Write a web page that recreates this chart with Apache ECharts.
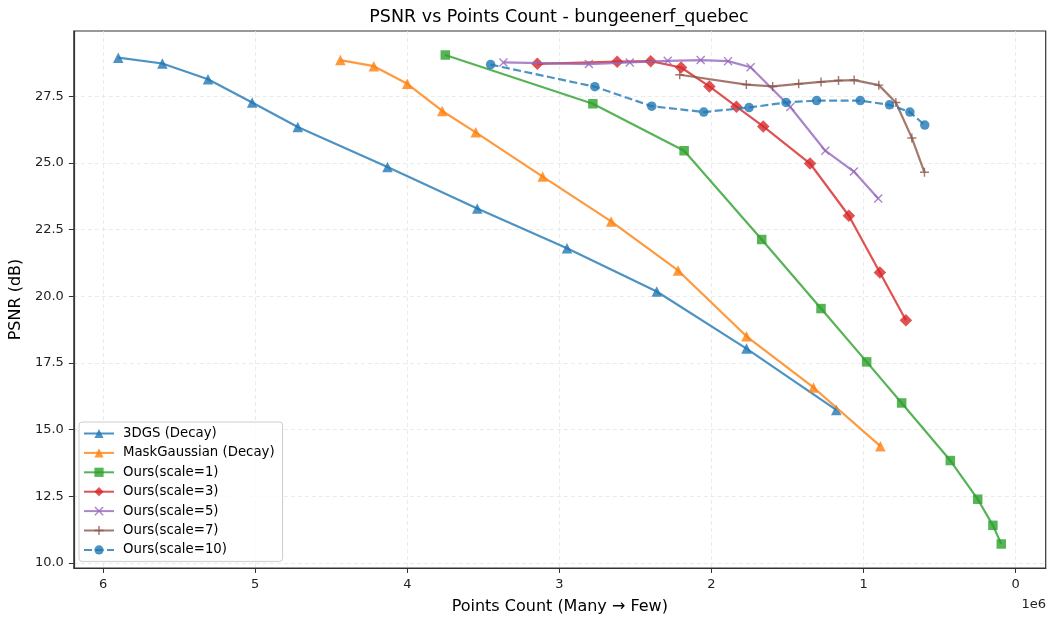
<!DOCTYPE html>
<html>
<head>
<meta charset="utf-8">
<script src="https://cdn.jsdelivr.net/npm/echarts@6/dist/echarts.min.js"></script>
<style>
html,body{margin:0;padding:0;background:#fff;}
#chart{width:1049px;height:620px;}
</style>
</head>
<body>
<div id="chart"></div>
<script>
// Points count in millions (axis shows x 1e6)
const xTicks = [0, 1, 2, 3, 4, 5, 6];
const yTicks = [10, 12.5, 15, 17.5, 20, 22.5, 25, 27.5];
const seriesNames = ['3DGS (Decay)', 'MaskGaussian (Decay)', 'Ours(scale=1)', 'Ours(scale=3)', 'Ours(scale=5)', 'Ours(scale=7)', 'Ours(scale=10)'];

const dgsX = [5.90, 5.61, 5.31, 5.02, 4.72, 4.13, 3.54, 2.95, 2.36, 1.77, 1.18];
const dgsY = [28.95, 28.73, 28.14, 27.27, 26.35, 24.85, 23.29, 21.80, 20.18, 18.04, 15.74];

const maskX = [4.44, 4.22, 4.00, 3.77, 3.55, 3.11, 2.66, 2.22, 1.77, 1.33, 0.89];
const maskY = [28.86, 28.63, 27.97, 26.95, 26.15, 24.49, 22.81, 20.97, 18.50, 16.58, 14.38];

const s1X = [3.75, 2.78, 2.18, 1.67, 1.28, 0.98, 0.75, 0.43, 0.25, 0.15, 0.095];
const s1Y = [29.05, 27.22, 25.46, 22.13, 19.54, 17.54, 16.00, 13.84, 12.39, 11.41, 10.71];

const s3X = [3.145, 2.62, 2.40, 2.20, 2.014, 1.836, 1.66, 1.352, 1.097, 0.893, 0.722];
const s3Y = [28.72, 28.80, 28.82, 28.58, 27.87, 27.11, 26.37, 24.98, 23.02, 20.89, 19.10];

const s5X = [3.368, 2.806, 2.537, 2.288, 2.071, 1.891, 1.743, 1.482, 1.252, 1.064, 0.904];
const s5Y = [28.77, 28.71, 28.77, 28.83, 28.86, 28.82, 28.59, 27.10, 25.46, 24.68, 23.67];

const s7X = [2.209, 1.771, 1.598, 1.427, 1.280, 1.165, 1.062, 0.900, 0.788, 0.683, 0.600];
const s7Y = [28.31, 27.94, 27.87, 27.97, 28.04, 28.09, 28.11, 27.92, 27.27, 25.94, 24.65];

const s10X = [3.452, 2.767, 2.393, 2.051, 1.753, 1.510, 1.309, 1.022, 0.830, 0.696, 0.598];
const s10Y = [28.69, 27.86, 27.13, 26.91, 27.08, 27.27, 27.34, 27.34, 27.18, 26.91, 26.42];

const colors = ['#1f77b4', '#ff7f0e', '#2ca02c', '#d62728', '#9467bd', '#8c564b', '#1f77b4'];
const FONT = 'DejaVu Sans';

const zip = (xs, ys) => xs.map((x, i) => [x, ys[i]]);
const plusPath = 'path://M4.2,0h1.6v4.2h4.2v1.6h-4.2v4.2h-1.6v-4.2h-4.2v-1.6h4.2z';
const xPath = 'path://M1.1,0L5,3.9L8.9,0L10,1.1L6.1,5L10,8.9L8.9,10L5,6.1L1.1,10L0,8.9L3.9,5L0,1.1z';
const diamondPath = 'path://M5,0L10,5L5,10L0,5z';

const defs = [
  {x: dgsX, y: dgsY, sym: 'triangle', size: 10.5},
  {x: maskX, y: maskY, sym: 'triangle', size: 10.5},
  {x: s1X, y: s1Y, sym: 'rect', size: 9.5},
  {x: s3X, y: s3Y, sym: diamondPath, size: 12.5},
  {x: s5X, y: s5Y, sym: xPath, size: 9},
  {x: s7X, y: s7Y, sym: plusPath, size: 9},
  {x: s10X, y: s10Y, sym: 'circle', size: 9.5, dashed: true}
];

const series = defs.map((d, i) => ({
  name: seriesNames[i],
  type: 'line',
  data: zip(d.x, d.y),
  symbol: d.sym,
  symbolSize: d.size,
  showAllSymbol: true,
  animation: false,
  lineStyle: {color: colors[i], width: 2.2, opacity: 0.8, type: d.dashed ? [8, 3.5] : 'solid'},
  itemStyle: {color: colors[i], opacity: 0.8},
  emphasis: {disabled: true},
  z: 2 + i
}));

const chart = echarts.init(document.getElementById('chart'), null, {renderer: 'canvas'});
chart.setOption({
  animation: false,
  backgroundColor: '#fff',
  textStyle: {fontFamily: FONT},
  title: {
    text: 'PSNR vs Points Count - bungeenerf_quebec',
    left: 559, top: 8, textAlign: 'center', padding: 0,
    textStyle: {fontFamily: FONT, fontSize: 17.5, fontWeight: 'normal', color: '#000'}
  },
  grid: {
    left: 72.7, right: 3.3, top: 31, bottom: 50.7,
    show: true, borderColor: '#333', borderWidth: 1.2, backgroundColor: 'transparent'
  },
  legend: {
    data: seriesNames,
    orient: 'vertical',
    left: 79, top: 422,
    itemWidth: 30, itemHeight: 11.5, itemGap: 6.4,
    padding: [5, 8, 5, 4],
    backgroundColor: 'rgba(255,255,255,0.8)',
    borderColor: '#cccccc', borderWidth: 1, borderRadius: 3,
    textStyle: {fontFamily: FONT, fontSize: 13.3, color: '#000', padding: [0, 0, 0, 4]},
    selectedMode: false
  },
  xAxis: {
    type: 'value', inverse: true,
    min: -0.197, max: 6.192,
    name: 'Points Count (Many \u2192 Few)',
    nameLocation: 'middle', nameGap: 31,
    nameTextStyle: {fontFamily: FONT, fontSize: 16, color: '#000'},
    axisLine: {show: true, onZero: false, lineStyle: {color: '#333', width: 1.2}},
    axisTick: {show: true, inside: false, length: 5, lineStyle: {color: '#333'}, customValues: xTicks},
    axisLabel: {customValues: xTicks, margin: 10.5, fontFamily: FONT, fontSize: 13, color: '#222', formatter: v => String(v)},
    splitLine: {show: true, lineStyle: {color: '#e6e6e6', type: [4, 3], width: 0.8}}
  },
  yAxis: {
    type: 'value',
    min: 9.81, max: 29.95,
    name: 'PSNR (dB)',
    nameLocation: 'middle', nameGap: 47, nameRotate: 90,
    nameTextStyle: {fontFamily: FONT, fontSize: 16, color: '#000'},
    axisLine: {show: true, onZero: false, lineStyle: {color: '#333', width: 1.2}},
    axisTick: {show: true, inside: false, length: 5, lineStyle: {color: '#333'}, customValues: yTicks},
    axisLabel: {customValues: yTicks, margin: 10, fontFamily: FONT, fontSize: 13, color: '#222', formatter: v => v.toFixed(1)},
    splitLine: {show: true, lineStyle: {color: '#e6e6e6', type: [4, 3], width: 0.8}}
  },
  graphic: [{
    type: 'text', right: 3, top: 598,
    style: {text: '1e6', fontFamily: FONT, fontSize: 13, fill: '#222'}
  }],
  series: series
});
</script>
</body>
</html>
